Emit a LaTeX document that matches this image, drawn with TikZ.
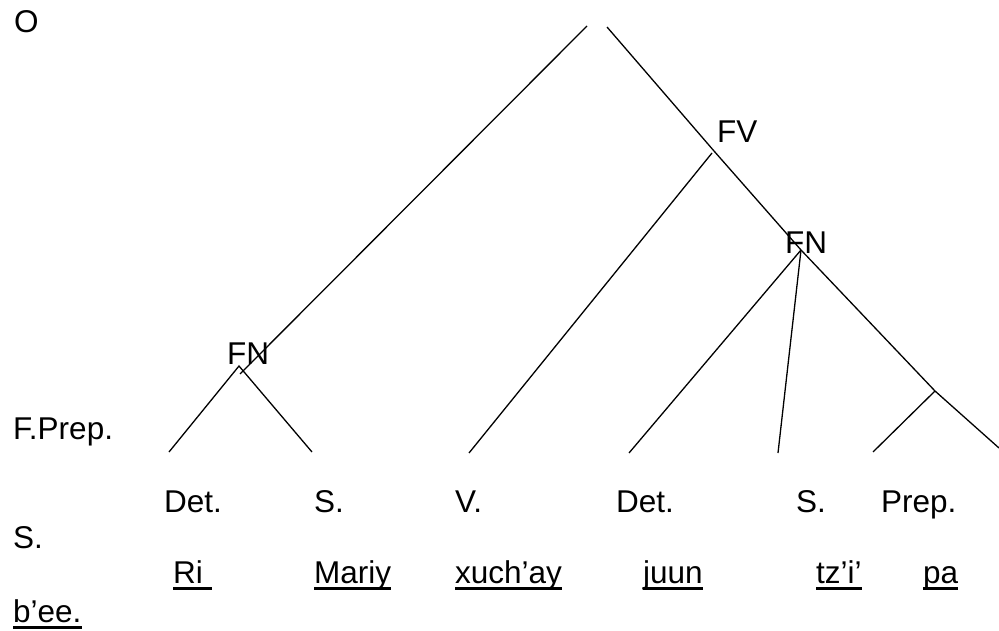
\documentclass[tikz,border=0pt]{standalone}
\usepackage{fontspec}
\setmainfont{Liberation Sans}
% word with a heavy underline just below the baseline
\newcommand\wordul[1]{\setbox0\hbox{#1}\rlap{\rule[-6.7pt]{\wd0}{2.5pt}}\box0}
\tikzset{
  lbl/.style={anchor=base west, inner sep=0pt, font=\fontsize{31.5}{37}\selectfont},
  branch/.style={line width=1.3pt, line cap=butt}
}
\begin{document}
\begin{tikzpicture}[x=1pt,y=-1pt]
\useasboundingbox (0,0) rectangle (999,631);

% junctions and line ends of the tree
\coordinate (rootL) at (587,26);
\coordinate (rootR) at (607,27);
\coordinate (fnLend) at (240,374);
\coordinate (fv) at (714,151);
\coordinate (fvtop) at (712,153);
\coordinate (fnR) at (801,250);
\coordinate (pp) at (935,391);
\coordinate (rend) at (999,448);
\coordinate (fnL) at (239,366);
\coordinate (leafDet1) at (169,452);
\coordinate (leafS1) at (312,452);
\coordinate (leafV) at (469,453);
\coordinate (leafDet2) at (629,453);
\coordinate (leafS2) at (778,453);
\coordinate (leafPrep) at (873,452);

% branches
\draw[branch] (rootL) -- (fnLend);
\draw[branch] (rootR) -- (fv) -- (fnR) -- (pp) -- (rend);
\draw[branch] (fvtop) -- (leafV);
\draw[branch] (fnR) -- (leafDet2);
\draw[branch] (fnR) -- (leafS2);
\draw[branch] (pp) -- (leafPrep);
\draw[branch] (leafDet1) -- (fnL) -- (leafS1);

% phrase labels
\node[lbl] (O) at (14,33) {O};
\node[lbl] (FV) at (717,143) {FV};
\node[lbl] (FNr) at (785,254) {FN};
\node[lbl] (FNl) at (227,364) {FN};
\node[lbl] (FPrep) at (13,439) {F.Prep.};

% categories
\node[lbl] (cDet1) at (164,512) {Det.};
\node[lbl] (cS1) at (314,512) {S.};
\node[lbl] (cV) at (455,512) {V.};
\node[lbl] (cDet2) at (616,512) {Det.};
\node[lbl] (cS2) at (796,512) {S.};
\node[lbl] (cPrep) at (881,512) {Prep.};
\node[lbl] (cS3) at (13,548) {S.};

% sentence
\node[lbl] (wRi) at (173,583) {\wordul{Ri\ }};
\node[lbl] (wMariy) at (314,583) {\wordul{Mariy}};
\node[lbl] (wXuchay) at (455,583) {\wordul{xuch’ay}};
\node[lbl] (wJuun) at (643,583) {\wordul{juun}};
\node[lbl] (wTzi) at (816,583) {\wordul{tz’i’}};
\node[lbl] (wPa) at (923,583) {\wordul{pa}};
\node[lbl] (wBee) at (13,622) {\wordul{b’ee.}};
\end{tikzpicture}
\end{document}
